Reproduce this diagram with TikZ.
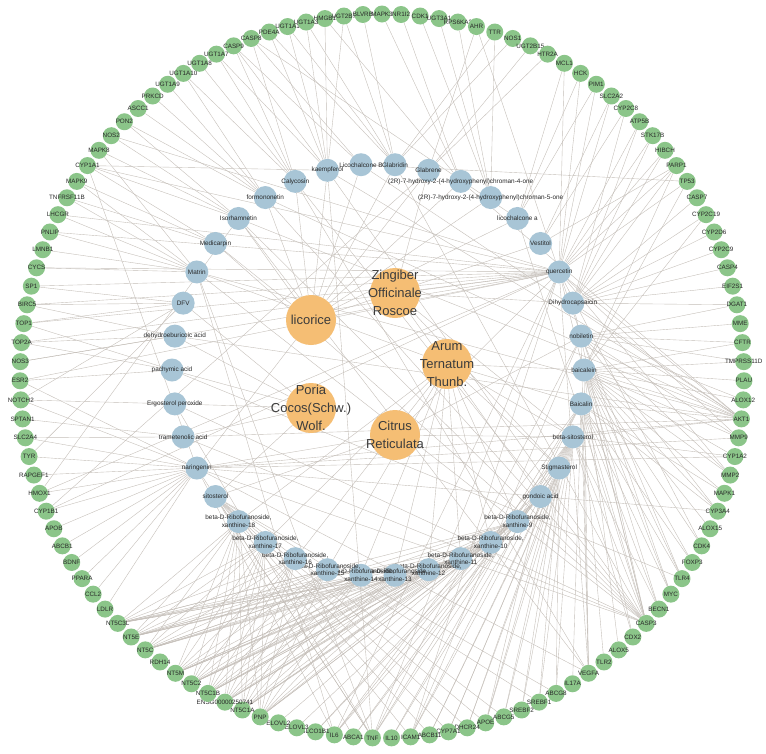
\documentclass[tikz,border=0pt]{standalone}
\usepackage{fontspec}
\setmainfont{Liberation Sans}
\pgfdeclarelayer{bg}
\pgfsetlayers{bg,main}
\definecolor{gfill}{RGB}{139,197,137}
\definecolor{cfill}{RGB}{168,197,214}
\definecolor{hfill}{RGB}{245,190,116}
\definecolor{edgec}{RGB}{196,190,184}
\definecolor{labc}{RGB}{40,40,40}
\definecolor{herbc}{RGB}{60,60,60}
\tikzset{
  gene/.style={circle, fill=gfill, minimum size=17pt, inner sep=0pt, label={[glab]center:#1}},
  glab/.style={font=\fontsize{6.3}{7}\selectfont, text=labc, inner sep=0pt},
  comp/.style={circle, fill=cfill, minimum size=23pt, inner sep=0pt, label={[clab]center:#1}},
  clab/.style={font=\fontsize{6.4}{7.8}\selectfont, text=labc, inner sep=0pt, align=center},
  herb/.style={circle, fill=hfill, minimum size=50pt, inner sep=0pt, label={[hlab]center:#1}},
  hlab/.style={font=\fontsize{13}{18}\selectfont, text=herbc, inner sep=0pt, align=center},
  edge/.style={draw=edgec, line width=0.38pt},
}
\begin{document}
\begin{tikzpicture}[x=1pt,y=-1pt]
\useasboundingbox (0,0) rectangle (766,753);
\begin{pgfonlayer}{bg}
\fill[white] (0,0) rectangle (766,753);
\end{pgfonlayer}
% ---------- genes (outer ring)
\foreach \i/\t in {1/HMGB1,2/UGT2B7,3/BLVRB,4/MAPK3,5/NR1I2,6/CDK1,7/UGT3A1,8/RPS6KA3,9/AHR,10/TTR,
 11/NOS1,12/UGT2B15,13/HTR2A,14/MCL1,15/HCK,16/PIM1,17/SLC2A2,18/CYP2C8,19/ATP5B,20/STK17B,
 21/HIBCH,22/PARP1,23/TP53,24/CASP7,25/CYP2C19,26/CYP2D6,27/CYP2C9,28/CASP4,29/EIF2S1,30/DGAT1,
 31/MME,32/CFTR,33/TMPRSS11D,34/PLAU,35/ALOX12,36/AKT1,37/MMP9,38/CYP1A2,39/MMP2,40/MAPK1,
 41/CYP3A4,42/ALOX15,43/CDK4,44/FOXP3,45/TLR4,46/MYC,47/BECN1,48/CASP3,49/CDX2,50/ALOX5,
 51/TLR2,52/VEGFA,53/IL17A,54/ABCG8,55/SREBF1,56/SREBF2,57/ABCG5,58/APOE,59/DHCR24,60/CYP7A1,
 61/ABCB11,62/ICAM1,63/IL10,64/TNF,65/ABCA1,66/IL6,67/SLCO1B1,68/ELOVL3,69/ELOVL2,70/PNP,
 71/NT5C1A,72/ENSG00000250741,73/NT5C1B,74/NT5C2,75/NT5M,76/RDH14,77/NT5C,78/NT5E,79/NT5C3L,80/LDLR,
 81/CCL2,82/PPARA,83/BDNF,84/ABCB1,85/APOB,86/CYP1B1,87/HMOX1,88/RAPGEF1,89/TYR,90/SLC2A4,
 91/SPTAN1,92/NOTCH2,93/ESR2,94/NOS3,95/TOP2A,96/TOP1,97/BIRC5,98/SP1,99/CYCS,100/LMNB1,
 101/PNLIP,102/LHCGR,103/TNFRSF11B,104/MAPK9,105/CYP1A1,106/MAPK8,107/NOS2,108/PON2,109/ASCC1,110/PRKCD,
 111/UGT1A9,112/UGT1A10,113/UGT1A8,114/UGT1A7,115/CASP9,116/CASP8,117/PDE4A,118/UGT1A1,119/UGT1A3}
{
  \pgfmathsetmacro\a{90-(\i-4)*3.02521}
  \node[gene=\t] (g\i) at ({382+362*cos(\a)},{376-362*sin(\a)}) {};
}
% ---------- compounds (middle ring)
\foreach \j/\t in {1/{Licochalcone B},2/Glabridin,3/Glabrene,
 4/{(2R)-7-hydroxy-2-(4-hydroxyphenyl)chroman-4-one},
 5/{(2R)-7-hydroxy-2-(4-hydroxyphenyl)chroman-5-one},
 6/{licochalcone a},7/Vestitol,8/quercetin,9/Dihydrocapsaicin,10/nobiletin,
 11/baicalein,12/Baicalin,13/beta-sitosterol,14/Stigmasterol,15/{gondoic acid},
 16/{beta-D-Ribofuranoside,\\xanthine-9},17/{beta-D-Ribofuranoside,\\xanthine-10},
 18/{beta-D-Ribofuranoside,\\xanthine-11},19/{beta-D-Ribofuranoside,\\xanthine-12},
 20/{beta-D-Ribofuranoside,\\xanthine-13},21/{beta-D-Ribofuranoside,\\xanthine-14},
 22/{beta-D-Ribofuranoside,\\xanthine-15},23/{beta-D-Ribofuranoside,\\xanthine-16},
 24/{beta-D-Ribofuranoside,\\xanthine-17},25/{beta-D-Ribofuranoside,\\xanthine-18},
 26/sitosterol,27/naringenin,28/{trametenolic acid},29/{Ergosterol peroxide},
 30/{pachymic acid},31/{dehydroeburicoic acid},32/DFV,33/Matrin,34/Medicarpin,
 35/Isorhamnetin,36/formononetin,37/Calycosin,38/kaempferol}
{
  \pgfmathsetmacro\a{94.737-(\j-1)*9.47368}
  \node[comp={\t}] (c\j) at ({378+206*cos(\a)},{370-206*sin(\a)}) {};
}
% ---------- herbs (centre)
\node[herb=licorice] (h1) at (311,320) {};
\node[herb={Zingiber\\Officinale\\Roscoe}] (h2) at (395,293) {};
\node[herb={Arum\\Ternatum\\Thunb.}] (h3) at (447,364) {};
\node[herb={Citrus\\Reticulata}] (h4) at (395,435) {};
\node[herb={Poria\\Cocos(Schw.)\\Wolf.}] (h5) at (311,408) {};
% ---------- edges
\begin{pgfonlayer}{bg}
\foreach \c/\gl in {
 1/{116,115,36,23},
 2/{11,10,117,3,2,119,118,48},
 3/{9,12,13,86},
 4/{1,4,5,36},
 5/{6,7,8,10},
 6/{14,15,16,48,116},
 7/{17,18,22},
 8/{14,15,16,17,19,20,21,22,23,36,37,39,48,52,62,64,66,87,105,86,93,94,95,96,97,98,99,102,101,107,9,46,43},
 9/{18,19,20,21,22,24,25,26,27,28,29,30,36,48},
 10/{30,31,32,33,35,37,39,41,45,52,62,64},
 11/{32,33,34,35,36,37,38,39,40,41,42,43,44,45,46,47,48,50,52,23,22,25},
 12/{36,40,41,44,45,46,47,48,49,51,52,53,64,66,62,63},
 13/{54,55,56,57,58,59,60,61,62,63,64,65,66,48,36,47,49,38},
 14/{54,55,56,57,58,59,60,65,67,61},
 15/{68,69,58,67,66},
 26/{54,55,57,58,59,60,65,61,62,64},
 27/{80,81,82,83,84,85,86,87,88,89,90,92,93,48,36,64,66,41,38,52,105,37},
 28/{91,90,48,36},
 29/{92,64,48},
 30/{93,95,96,45},
 31/{94,95,97,36},
 32/{96,97,98,92,89},
 33/{99,100,101,102,103,104,106,48,36,64,66},
 34/{103,104,105,48},
 35/{105,106,107,108,36,48,87,52},
 36/{108,109,110,111,112,36,48},
 37/{112,113,114,115,116,48,52},
 38/{114,115,117,118,119,1,2,36,48,64,105}}
{
  \foreach \g in \gl { \draw[edge] (c\c) -- (g\g); }
}
\foreach \c in {16,...,25} {
  \foreach \g in {70,71,72,73,74,75,77,78,79} { \draw[edge] (c\c) -- (g\g); }
}
\foreach \h/\cl in {
 1/{1,2,3,4,5,6,7,8,34,35,36,37,38,27},
 2/{9,13,15,8,14,3},
 3/{11,12,13,14,16,17,18,19,20,21,22,23,24,25,33},
 4/{10,27,13,26,8},
 5/{28,29,30,31,32,26}}
{
  \foreach \c in \cl { \draw[edge] (h\h) -- (c\c); }
}
\end{pgfonlayer}
\end{tikzpicture}
\end{document}
